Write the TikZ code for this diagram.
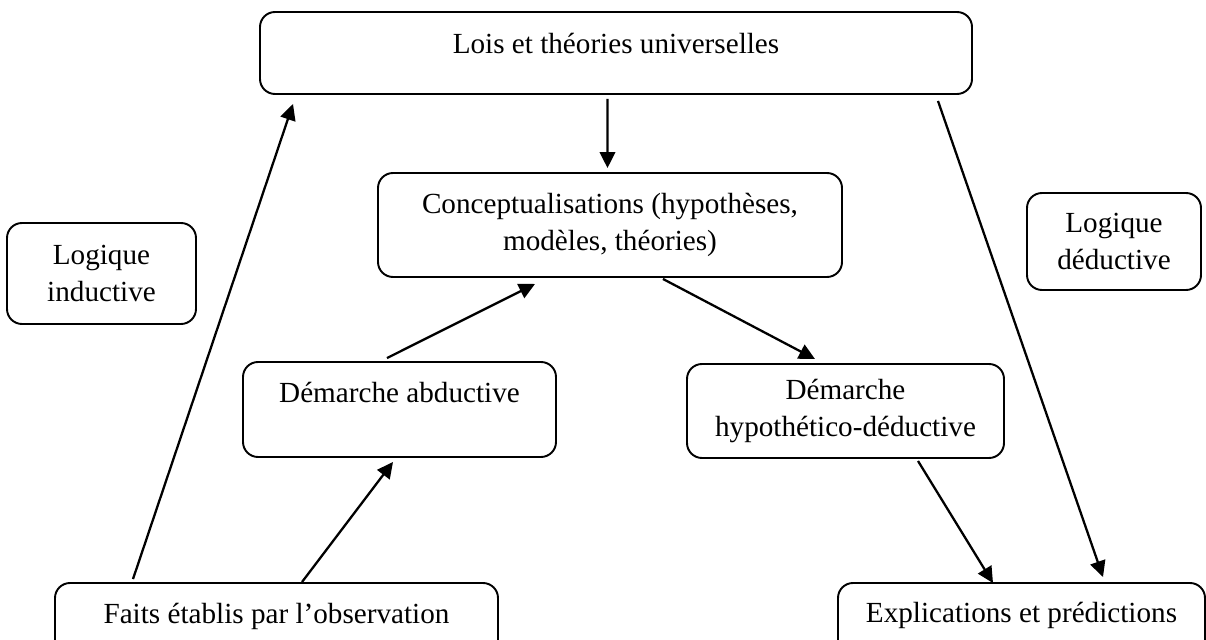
\documentclass[tikz,border=0pt]{standalone}
\usepackage{fontspec}
\setmainfont{Liberation Serif}
\usetikzlibrary{arrows.meta}
\tikzset{boite/.style={draw, line width=1.1pt, rounded corners=3mm, inner sep=0pt, align=center},
  fl/.style={-{Triangle[length=3.2mm, width=3.1mm]}, line width=1.3pt}}

\begin{document}
\begin{tikzpicture}[font=\fontsize{16.6pt}{21pt}\selectfont]
  \useasboundingbox (0,0) rectangle (24.12,12.78);
  % top row
  \node[boite, anchor=base, minimum width=14.24cm, text height=8.4mm, text depth=8mm] (lois) at (12.32,11.70) {Lois et théories universelles};
  % middle row
  \node[boite, minimum width=9.28cm, minimum height=2.08cm] (concept) at (12.20,8.28) {Conceptualisations (hypothèses,\\ modèles, théories)};
  \node[boite, minimum width=3.78cm, minimum height=2.02cm] (indu) at (2.03,7.31) {Logique\\ inductive};
  \node[boite, minimum width=3.48cm, minimum height=1.94cm] (dedu) at (22.28,7.95) {Logique\\ déductive};
  \node[boite, anchor=base, minimum width=6.26cm, text height=8.2mm, text depth=10.8mm] (abdu) at (7.99,4.72) {Démarche abductive};
  \node[boite, minimum width=6.34cm, minimum height=1.88cm] (hypo) at (16.91,4.56) {Démarche\\ hypothético-déductive};
  % bottom row (cut by the page edge)
  \node[boite, anchor=base, minimum width=8.86cm, text height=8mm, text depth=10mm] (faits) at (5.53,0.32) {Faits établis par l’observation};
  \node[boite, anchor=base, minimum width=7.34cm, text height=7.8mm, text depth=10mm] (expl) at (20.43,0.34) {Explications et prédictions};
  % faits -> lois : induction
  \draw[fl] ([xshift=-2.87cm, yshift=0.6mm]faits.north) -- ([xshift=-6.46cm, yshift=-1.8mm]lois.south);
  % faits -> abductive
  \draw[fl] ([xshift=5.1mm, yshift=0mm]faits.north) -- ([xshift=-1.3mm, yshift=-0.8mm]abdu.south);
  % abductive -> conceptualisations
  \draw[fl] ([xshift=-2.5mm, yshift=0.6mm]abdu.north) -- ([xshift=-15mm, yshift=-1.2mm]concept.south);
  % lois -> conceptualisations
  \draw[fl] ([xshift=-1.7mm, yshift=-0.8mm]lois.south) -- ([xshift=-0.5mm, yshift=0.8mm]concept.north);
  % conceptualisations -> hypothetico-deductive
  \draw[fl] ([xshift=10.6mm, yshift=-0.2mm]concept.south) -- ([xshift=-6.1mm, yshift=0.8mm]hypo.north);
  % lois -> explications : deduction
  \draw[fl] ([xshift=6.44cm, yshift=-1.2mm]lois.south) -- ([xshift=16.3mm, yshift=1mm]expl.north);
  % hypothetico-deductive -> explications
  \draw[fl] ([xshift=14.5mm, yshift=-0.4mm]hypo.south) -- ([xshift=-5.7mm, yshift=-0.2mm]expl.north);
\end{tikzpicture}
\end{document}
